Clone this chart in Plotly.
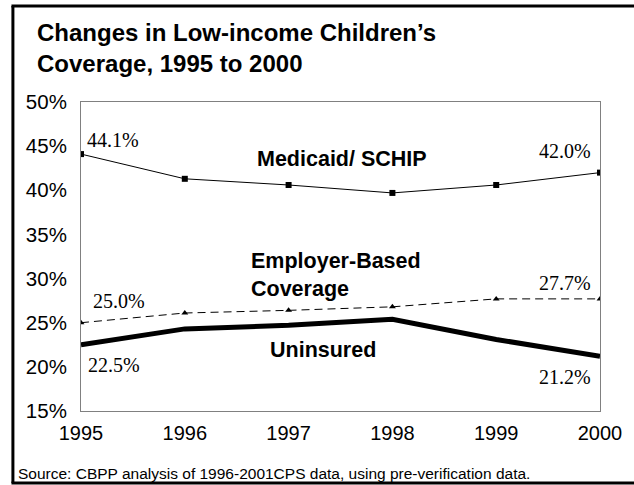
import plotly.graph_objects as go

years = [1995, 1996, 1997, 1998, 1999, 2000]
medicaid = [44.1, 41.3, 40.6, 39.7, 40.6, 42.0]
employer = [25.0, 26.1, 26.4, 26.8, 27.7, 27.7]
uninsured = [22.5, 24.3, 24.7, 25.4, 23.1, 21.2]
y_ticks = [15, 20, 25, 30, 35, 40, 45, 50]

fig = go.Figure()
fig.add_trace(go.Scatter(x=years, y=medicaid, mode="lines+markers",
                         line=dict(color="black", width=1),
                         marker=dict(symbol="square", size=6, color="black")))
fig.add_trace(go.Scatter(x=years, y=employer, mode="lines+markers",
                         line=dict(color="black", width=1, dash="8px,5px"),
                         marker=dict(symbol="triangle-up", size=6, color="black")))
fig.add_trace(go.Scatter(x=years, y=uninsured, mode="lines",
                         line=dict(color="black", width=5)))

serif = dict(family="Liberation Serif, Times New Roman, serif", size=20, color="black")
sans_b = dict(family="Liberation Sans, Arial, sans-serif", size=21.5, color="black")

def vlabel(x, y, xanchor, xshift, yshift):
    fig.add_annotation(x=x, y=y, xref="x", yref="y", text=f"{y:.1f}%", showarrow=False,
                       xanchor=xanchor, yanchor="middle", xshift=xshift, yshift=yshift, font=serif)

vlabel(years[0], medicaid[0], "left", 4, 14)
vlabel(years[-1], medicaid[-1], "right", -7, 22)
vlabel(years[0], employer[0], "left", 10, 22)
vlabel(years[-1], employer[-1], "right", -7, 16)
vlabel(years[0], uninsured[0], "left", 5, -20)
vlabel(years[-1], uninsured[-1], "right", -7, -21)

fig.add_annotation(x=1997.51, y=43.6, text="<b>Medicaid/ SCHIP</b>", showarrow=False,
                   xanchor="center", yanchor="middle", font=sans_b)
fig.add_annotation(x=1996.62, y=30.4, text="<b>Employer-Based<br>Coverage</b>", showarrow=False,
                   xanchor="left", yanchor="middle", align="left", font=sans_b)
fig.add_annotation(x=1997.33, y=21.9, text="<b>Uninsured</b>", showarrow=False,
                   xanchor="center", yanchor="middle", font=sans_b)

title_font = dict(family="Liberation Sans, Arial, sans-serif", size=24, color="black")
fig.add_annotation(x=-0.0881, y=(411 - 32) / 309, xref="paper", yref="paper",
                   text="<b>Changes in Low-income Children’s</b>", showarrow=False,
                   xanchor="left", yanchor="middle", font=title_font)
fig.add_annotation(x=-0.0881, y=(411 - 63) / 309, xref="paper", yref="paper",
                   text="<b>Coverage, 1995 to 2000</b>", showarrow=False,
                   xanchor="left", yanchor="middle", font=title_font)
fig.add_annotation(x=-0.1245, y=(411 - 473) / 309, xref="paper", yref="paper",
                   text="Source: CBPP analysis of 1996-2001CPS data, using pre-verification data.",
                   showarrow=False, xanchor="left", yanchor="middle",
                   font=dict(family="Liberation Sans, Arial, sans-serif", size=15.5, color="black"))

# outer frame
fig.add_shape(type="line", xref="paper", yref="paper", x0=-0.1312, x1=-0.1312, y0=1.3107, y1=-0.233,
              line=dict(color="black", width=3))
fig.add_shape(type="line", xref="paper", yref="paper", x0=-0.1340, x1=1.2, y0=1.3107, y1=1.3107,
              line=dict(color="black", width=3))
fig.add_shape(type="line", xref="paper", yref="paper", x0=-0.1340, x1=1.2, y0=-0.233, y1=-0.233,
              line=dict(color="black", width=3))

fig.update_xaxes(range=[1995, 2000], tickvals=years, ticktext=[str(y) for y in years],
                 showgrid=False, zeroline=False, showline=True, mirror=True,
                 linecolor="#808080", linewidth=1, ticks="",
                 tickfont=dict(family="Liberation Sans, Arial, sans-serif", size=20, color="black"),
                 ticklabelstandoff=4)
fig.update_yaxes(range=[15, 50], tickvals=y_ticks, ticktext=[f"{v}%" for v in y_ticks],
                 showgrid=False, zeroline=False, showline=True, mirror=True,
                 linecolor="#808080", linewidth=1, ticks="",
                 tickfont=dict(family="Liberation Sans, Arial, sans-serif", size=20.5, color="black"),
                 ticklabelstandoff=9)

fig.update_layout(width=634, height=485, margin=dict(l=81, r=31, t=102, b=74),
                  paper_bgcolor="white", plot_bgcolor="white", showlegend=False)

fig.write_html("out.html")
